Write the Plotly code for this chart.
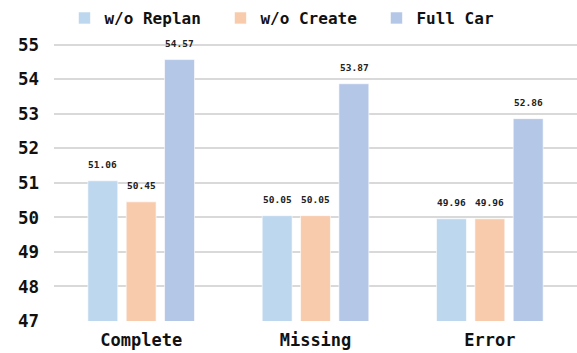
import plotly.graph_objects as go

categories = ["Complete", "Missing", "Error"]
series_names = ["w/o Replan", "w/o Create", "Full Car"]
wo_replan = [51.06, 50.05, 49.96]
wo_create = [50.45, 50.05, 49.96]
full_car = [54.57, 53.87, 52.86]
y_ticks = [47, 48, 49, 50, 51, 52, 53, 54, 55]

colors = ["#BDD7EE", "#F8CBAD", "#B4C7E7"]
FONT = "DejaVu Sans Mono"

fig = go.Figure()
all_vals = [wo_replan, wo_create, full_car]
for name, vals, col in zip(series_names, all_vals, colors):
    fig.add_trace(go.Bar(
        x=categories, y=vals, name=name,
        marker=dict(color=col, line=dict(color="rgba(255,255,255,0.6)", width=1)),
    ))

# value labels above bars
offsets_px = [-38.5, 0, 38.5]
for vals, dx in zip(all_vals, offsets_px):
    for c, v in zip(categories, vals):
        fig.add_annotation(
            x=c, y=v, text=f"{v:.2f}", showarrow=False,
            xshift=dx, yshift=9, yanchor="bottom",
            font=dict(family=FONT, size=9.5, color="#222", weight="bold"),
        )

fig.update_layout(
    width=577, height=353,
    margin=dict(l=54, r=0, t=24, b=32, autoexpand=False),
    paper_bgcolor="white", plot_bgcolor="white",
    barmode="group", bargap=0.34, bargroupgap=0.22,
    font=dict(family=FONT, color="#111"),
    showlegend=True,
    legend=dict(
        orientation="h", x=0.02, xanchor="left", y=1.02, yanchor="middle",
        font=dict(family=FONT, size=16, weight="bold", color="#111"),
        entrywidth=111, entrywidthmode="pixels",
        itemwidth=30, bgcolor="rgba(0,0,0,0)",
    ),
    xaxis=dict(
        tickfont=dict(family=FONT, size=17, weight="bold", color="#111"),
        showgrid=False, showline=False, ticks="", ticklabelstandoff=7,
    ),
    yaxis=dict(
        range=[47, 55.6], tickvals=y_ticks,
        tickfont=dict(family=FONT, size=17.5, weight="bold", color="#111"),
        showgrid=True, gridcolor="#d9d9d9", gridwidth=1.5,
        zeroline=False, showline=False, ticks="", ticklabelstandoff=14,
    ),
)

fig.write_html("out.html")
